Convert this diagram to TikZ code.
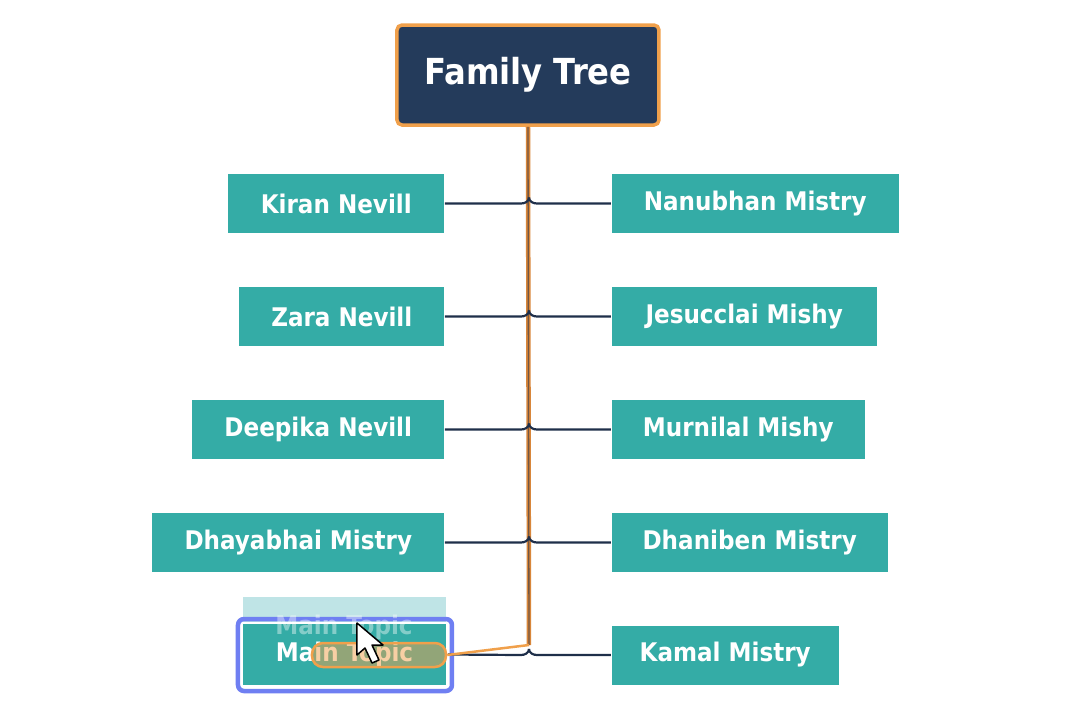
\documentclass[tikz,border=0pt]{standalone}
\usepackage{fontspec}
\setmainfont{DejaVu Sans Condensed}
\usepackage{tikz}
\usetikzlibrary{positioning}
\definecolor{navy}{HTML}{243B5B}
\definecolor{teal}{HTML}{34ACA6}
\definecolor{ghost}{HTML}{BFE4E6}
\definecolor{trunk}{HTML}{D8863A}
\definecolor{edge}{HTML}{F0A04B}
\definecolor{branchc}{HTML}{1F2F4A}
\definecolor{selblue}{HTML}{6F7FF2}
\tikzset{
     topic/.style={fill=teal, rectangle, text=white, font=\fontsize{7.3}{8}\selectfont\bfseries,
       minimum height=59*\ux, inner sep=0pt},
     root/.style={fill=navy, draw=edge, line width=3.5*\ux, rounded corners=5*\ux, text=white,
       font=\fontsize{10.2}{12}\selectfont\bfseries, minimum width=262*\ux, minimum height=100*\ux},
     branch/.style={draw=branchc, line width=2.2*\ux},
     ghostbox/.style={fill=ghost, minimum width=203*\ux, minimum height=56*\ux},
}
\def\ux{0.1mm}

\begin{document}
\begin{tikzpicture}[x=\ux, y=-\ux]
		\useasboundingbox (0,0) rectangle (1080,720);

		% root
		\node[root] (ft) at (528,75) {Family Tree};

		% left side
		\node[topic, minimum width=216*\ux, anchor=east] (kiran) at (445,203.5) {Kiran Nevill};
		\node[topic, minimum width=205*\ux, anchor=east] (zara) at (445,316.5) {Zara Nevill};
		\node[topic, minimum width=252*\ux, anchor=east] (deepika) at (445,429.5) {Deepika Nevill};
		\node[topic, minimum width=292*\ux, anchor=east] (dhaya) at (445,542.5) {Dhayabhai Mistry};

		% right side
		\node[topic, minimum width=287*\ux, anchor=west] (nanu) at (611,203.5) {Nanubhan Mistry};
		\node[topic, minimum width=265*\ux, anchor=west] (jesu) at (611,316.5) {Jesucclai Mishy};
		\node[topic, minimum width=253*\ux, anchor=west] (murni) at (611,429.5) {Murnilal Mishy};
		\node[topic, minimum width=276*\ux, anchor=west] (dhani) at (611,542.5) {Dhaniben Mistry};
		\node[topic, minimum width=227*\ux, anchor=west] (kamal) at (611,655) {Kamal Mistry};

		% dragged topic
		\node[ghostbox] (ghost) at (344.5,625) {};
		\node[topic, minimum width=205*\ux, minimum height=63*\ux, draw=white, line width=2*\ux]
			(mtopic) at (344.5,654.5) {Main Topic};
		\node[draw=selblue, line width=4.5*\ux, rounded corners=6*\ux,
			minimum width=214*\ux, minimum height=72*\ux] (sel) at (345,655) {};
		\node[text=white, opacity=.4, font=\fontsize{7.3}{8}\selectfont\bfseries] (ghosttext) at (344,627) {Main Topic};

		% trunk
		\coordinate (tend) at (529,645);
		\draw[trunk, line width=4.5*\ux] (ft.south) -- (tend);
		\draw[branchc!55!trunk, line width=1.3*\ux] (ft.south) -- (tend);

		% branches
		\foreach \l/\r/\y in {kiran/nanu/203.5, zara/jesu/316.5, deepika/murni/429.5, dhaya/dhani/542.5, mtopic/kamal/655}{
			\coordinate (j\l) at (529,\y-6);
			\draw[branch] (\l.east) -- (521,\y) to[out=0,in=-90] (j\l);
			\draw[branch] (j\l) to[out=-90,in=180] (537,\y) -- (\r.west);
		}

		% drag feedback
		\node[fill=edge, fill opacity=.5, draw=edge, line width=2.5*\ux, rounded corners=11*\ux,
			minimum width=134*\ux, minimum height=24*\ux] (drop) at (379,655) {};
		\draw[edge, line width=2.5*\ux] (tend) -- (drop.east);

		% cursor
		\draw[fill=white, line width=1.5*\ux, line join=round]
			(357,623) -- (357,655) -- (365,648) -- (372,663) -- (379,660) -- (372,645) -- (383,645) -- cycle;
\end{tikzpicture}
\end{document}
